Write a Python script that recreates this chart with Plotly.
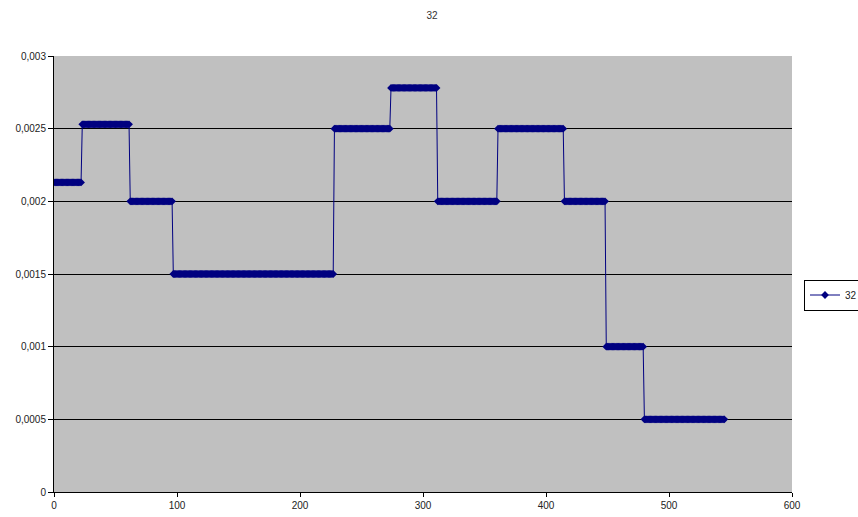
import plotly.graph_objects as go

# Step segments: start x, end x, level
seg_start = [0, 23, 62, 97, 228, 274, 312, 361, 415, 449, 480]
seg_end = [22, 61, 96, 227, 273, 311, 360, 414, 448, 479, 545]
seg_level = [0.00213, 0.00253, 0.002, 0.0015, 0.0025, 0.00278, 0.002, 0.0025, 0.002, 0.001, 0.0005]

series_name = "32"
y_tickvals = [0, 0.0005, 0.001, 0.0015, 0.002, 0.0025, 0.003]
y_ticktext = ["0", "0,0005", "0,001", "0,0015", "0,002", "0,0025", "0,003"]
x_tickvals = [0, 100, 200, 300, 400, 500, 600]

xs, ys = [], []
for s, e, v in zip(seg_start, seg_end, seg_level):
    for x in range(s, e + 1):
        xs.append(x)
        ys.append(v)

fig = go.Figure()
fig.add_trace(go.Scatter(
    x=xs, y=ys, name=series_name, mode="lines+markers",
    line=dict(color="#000080", width=1),
    marker=dict(symbol="diamond", size=6, color="#000080", line=dict(width=0)),
))

font = dict(family="Liberation Sans, Arial, sans-serif", size=10, color="#222")

fig.update_layout(
    width=858, height=517,
    margin=dict(l=54, r=66, t=56, b=25, autoexpand=False),
    paper_bgcolor="white", plot_bgcolor="#C0C0C0",
    font=font,
    title=dict(text="32", x=432 / 858, xanchor="center", y=1 - 15 / 517,
               yanchor="middle", font=dict(size=10, color="#333")),
    showlegend=True,
    legend=dict(x=(804 - 54) / 738, xanchor="left", y=(492 - 295) / 436,
                yanchor="middle", bgcolor="white", bordercolor="black",
                borderwidth=1, font=dict(size=10, color="#222"),
                itemwidth=30, tracegroupgap=0),
    xaxis=dict(range=[0, 600], tickvals=x_tickvals, showgrid=False,
               zeroline=False, showline=True, linecolor="black", linewidth=1,
               ticks="outside", ticklen=4, tickcolor="black"),
    yaxis=dict(range=[0, 0.003], tickvals=y_tickvals, ticktext=y_ticktext,
               showgrid=True, gridcolor="black", gridwidth=1,
               zeroline=False, showline=True, linecolor="black", linewidth=1,
               ticks="outside", ticklen=5, tickcolor="black"),
)

fig.write_html("out.html", config={"displayModeBar": False},
               post_script="document.body.style.margin='0';document.body.style.overflow='hidden';")
